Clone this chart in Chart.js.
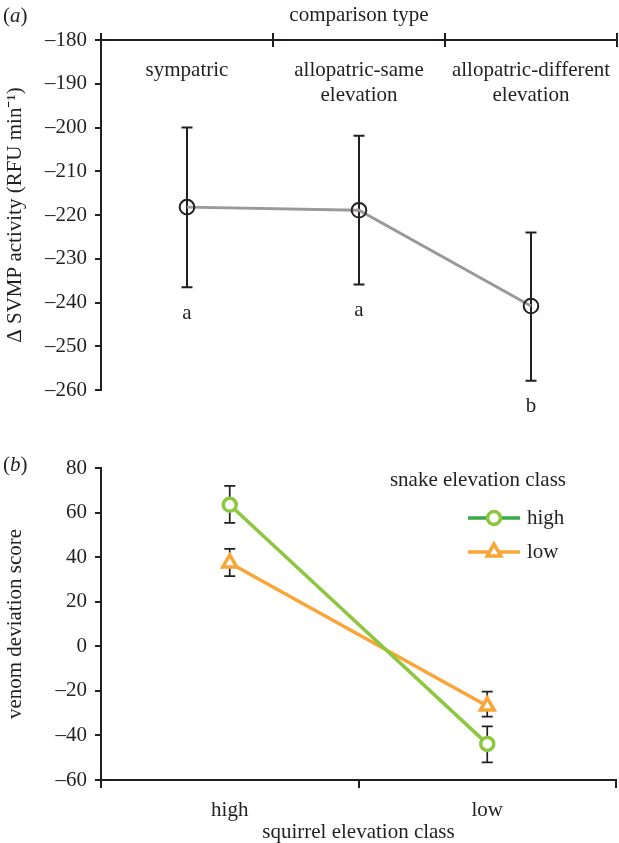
<!DOCTYPE html>
<html>
<head>
<meta charset="utf-8">
<script src="https://cdn.jsdelivr.net/npm/chart.js@4.4.1/dist/chart.umd.min.js"></script>
<style>
  body { margin: 0; background: #fff; }
  #wrap { position: relative; width: 619px; height: 843px; font-family: "Liberation Serif", serif; color: #231f20; }
  canvas { position: absolute; left: 0; }
  #chartA { top: 0; }
  #chartB { top: 420px; }
  .tag { position: absolute; left: 3px; font-size: 21px; line-height: 24px; }
</style>
</head>
<body>
<div id="wrap">
  <canvas id="chartA" width="619" height="420"></canvas>
  <canvas id="chartB" width="619" height="423"></canvas>
  <div class="tag" style="top:3px">(<i>a</i>)</div>
  <div class="tag" style="top:452px">(<i>b</i>)</div>
</div>
<script>
// panel (a) data
const compTypes = [["sympatric"], ["allopatric-same", "elevation"], ["allopatric-different", "elevation"]];
const svmpMean = [-218.2, -218.9, -240.8];
const svmpLow = [-236.5, -235.9, -257.9];
const svmpHigh = [-200.0, -201.9, -224.0];
const groupLetters = ["a", "a", "b"];

// panel (b) data
const squirrelClass = ["high", "low"];
const snakeClass = ["high", "low"];
const devHighSnake = [63.5, -43.8];
const devHighSnakeLow = [55.4, -52.1];
const devHighSnakeUp = [72.0, -35.9];
const devLowSnake = [37.4, -26.8];
const devLowSnakeLow = [31.5, -31.6];
const devLowSnakeUp = [43.7, -20.3];

const ink = "#231f20";
const green = "#8dc63f";
const greenDark = "#3aaa48";
const orange = "#f9a636";

Chart.defaults.font.family = "'Liberation Serif', 'Times New Roman', serif";
Chart.defaults.font.size = 21;
Chart.defaults.color = ink;

const minus = v => (v < 0 ? "\u2013" + Math.abs(v) : String(v));

// error bars drawn under the markers, from errLow/errHigh on each dataset
const errorBars = {
  id: "errorBars",
  beforeDatasetsDraw(chart, args, opts) {
    const ctx = chart.ctx;
    const xs = chart.scales.x, ys = chart.scales.y;
    ctx.save();
    ctx.strokeStyle = opts.color;
    ctx.lineWidth = opts.width;
    chart.data.datasets.forEach(ds => {
      if (!ds.errLow) return;
      ds.errLow.forEach((lo, i) => {
        const px = xs.getPixelForValue(i);
        const y1 = ys.getPixelForValue(lo);
        const y2 = ys.getPixelForValue(ds.errHigh[i]);
        ctx.beginPath();
        ctx.moveTo(px, y1); ctx.lineTo(px, y2);
        ctx.moveTo(px - opts.cap, y1); ctx.lineTo(px + opts.cap, y1);
        ctx.moveTo(px - opts.cap, y2); ctx.lineTo(px + opts.cap, y2);
        ctx.stroke();
      });
    });
    ctx.restore();
  }
};

// category names inside the plot, inner half of the top ticks, and group letters
const panelALabels = {
  id: "panelALabels",
  afterDraw(chart) {
    const ctx = chart.ctx;
    const xs = chart.scales.x, ys = chart.scales.y;
    const area = chart.chartArea;
    ctx.save();
    ctx.fillStyle = ink;
    ctx.font = "21px 'Liberation Serif', serif";
    ctx.textAlign = "center";
    ctx.textBaseline = "middle";
    compTypes.forEach((lines, i) => {
      const px = xs.getPixelForValue(i);
      lines.forEach((t, j) => ctx.fillText(t, px, area.top + 30 + j * 25));
    });
    groupLetters.forEach((t, i) => {
      ctx.fillText(t, xs.getPixelForValue(i), ys.getPixelForValue(svmpLow[i]) + 26);
    });
    ctx.strokeStyle = ink;
    ctx.lineWidth = 2;
    ctx.beginPath();
    for (let i = 1; i <= compTypes.length; i++) {
      const bx = i < compTypes.length
        ? (xs.getPixelForValue(i - 1) + xs.getPixelForValue(i)) / 2
        : area.right;
      ctx.moveTo(bx, area.top);
      ctx.lineTo(bx, area.top + 7);
    }
    ctx.stroke();
    ctx.restore();
  }
};

// legend box of panel (b): line with marker, then the class name
const panelBLegend = {
  id: "panelBLegend",
  afterDraw(chart) {
    const ctx = chart.ctx;
    ctx.save();
    ctx.fillStyle = ink;
    ctx.font = "21px 'Liberation Serif', serif";
    ctx.textBaseline = "middle";
    ctx.textAlign = "right";
    ctx.fillText("snake elevation class", 566, 60);
    ctx.textAlign = "left";
    chart.data.datasets.forEach((ds, i) => {
      const y = 98 + i * 34;
      ctx.strokeStyle = i === 0 ? greenDark : ds.borderColor;
      ctx.lineWidth = 3.5;
      ctx.beginPath();
      ctx.moveTo(468, y); ctx.lineTo(520, y);
      ctx.stroke();
      ctx.strokeStyle = ds.borderColor;
      ctx.fillStyle = "#fff";
      Chart.helpers.drawPoint(ctx, {
        pointStyle: ds.pointStyle, radius: ds.pointRadius, rotation: 0, borderWidth: 3.5
      }, 494, y);
      ctx.fillStyle = ink;
      ctx.fillText(ds.label, 527, y);
    });
    ctx.restore();
  }
};

new Chart(document.getElementById("chartA"), {
  type: "line",
  data: {
    labels: compTypes,
    datasets: [{
      data: svmpMean,
      errLow: svmpLow,
      errHigh: svmpHigh,
      borderColor: "#999999",
      borderWidth: 3,
      pointRadius: 7.3,
      pointBorderWidth: 2,
      pointBorderColor: ink,
      pointBackgroundColor: "rgba(0,0,0,0)",
      tension: 0
    }]
  },
  options: {
    responsive: false,
    animation: false,
    events: [],
    layout: { autoPadding: false, padding: { left: 0, right: 2, top: 0, bottom: 30 } },
    plugins: {
      legend: { display: false },
      tooltip: { enabled: false },
      errorBars: { color: ink, width: 2, cap: 5.5 }
    },
    scales: {
      x: {
        type: "category",
        position: "top",
        offset: true,
        afterFit: s => { s.height = 40; },
        ticks: { display: false },
        grid: { offset: true, drawOnChartArea: false, tickLength: 7, color: ink, lineWidth: 2 },
        border: { color: ink, width: 2 },
        title: { display: true, text: "comparison type", font: { size: 21 }, padding: { top: 3, bottom: 0 } }
      },
      y: {
        min: -260,
        max: -180,
        afterFit: s => { s.width = 101; },
        ticks: { stepSize: 10, padding: 8, callback: minus, font: { size: 21 } },
        grid: { drawOnChartArea: false, tickLength: 6, color: ink, lineWidth: 2 },
        border: { color: ink, width: 2 },
        title: { display: true, text: "\u0394 SVMP activity (RFU min\u207B\u00B9)", font: { size: 21 }, padding: { top: 3, bottom: 0 } }
      }
    }
  },
  plugins: [errorBars, panelALabels]
});

new Chart(document.getElementById("chartB"), {
  type: "line",
  data: {
    labels: squirrelClass,
    datasets: [{
      label: snakeClass[0],
      data: devHighSnake,
      errLow: devHighSnakeLow,
      errHigh: devHighSnakeUp,
      borderColor: green,
      borderWidth: 3.5,
      pointStyle: "circle",
      pointRadius: 6.5,
      pointBorderWidth: 3.5,
      pointBorderColor: green,
      pointBackgroundColor: "#fff",
      tension: 0
    }, {
      label: snakeClass[1],
      data: devLowSnake,
      errLow: devLowSnakeLow,
      errHigh: devLowSnakeUp,
      borderColor: orange,
      borderWidth: 3.5,
      pointStyle: "triangle",
      pointRadius: 8,
      pointBorderWidth: 3.5,
      pointBorderColor: orange,
      pointBackgroundColor: "#fff",
      tension: 0
    }]
  },
  options: {
    responsive: false,
    animation: false,
    events: [],
    layout: { autoPadding: false, padding: { left: 0, right: 3, top: 48, bottom: 0 } },
    plugins: {
      legend: { display: false },
      tooltip: { enabled: false },
      errorBars: { color: ink, width: 1.7, cap: 5.5 }
    },
    scales: {
      x: {
        type: "category",
        offset: true,
        afterFit: s => { s.height = 63; },
        ticks: { padding: 10, font: { size: 21 } },
        grid: { offset: true, drawOnChartArea: false, tickLength: 8, color: ink, lineWidth: 2 },
        border: { color: ink, width: 2 },
        title: { display: true, text: "squirrel elevation class", font: { size: 21, lineHeight: 1 }, padding: { top: 0, bottom: 0 } }
      },
      y: {
        min: -60,
        max: 80,
        afterFit: s => { s.width = 101; },
        ticks: { stepSize: 20, padding: 8, callback: minus, font: { size: 21 } },
        grid: { drawOnChartArea: false, tickLength: 6, color: ink, lineWidth: 2 },
        border: { color: ink, width: 2 },
        title: { display: true, text: "venom deviation score", font: { size: 21 }, padding: { top: 3, bottom: 0 } }
      }
    }
  },
  plugins: [errorBars, panelBLegend]
});
</script>
</body>
</html>
